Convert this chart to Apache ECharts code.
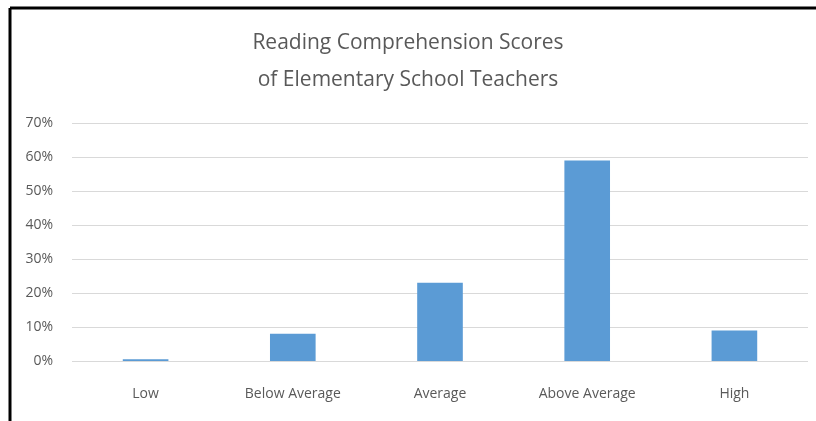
<!DOCTYPE html>
<html>
<head>
<meta charset="utf-8">
<script src="https://cdn.jsdelivr.net/npm/echarts@6/dist/echarts.min.js"></script>
<style>
  html, body { margin: 0; padding: 0; background: #fff; }
  #chart { width: 816px; height: 421px; }
</style>
</head>
<body>
<div id="chart"></div>
<script>
// chart data
var categories = ['Low', 'Below Average', 'Average', 'Above Average', 'High']
var scores = [0.5, 8, 23, 59, 9]
var titleLines = ['Reading Comprehension Scores', 'of Elementary School Teachers']

var font = '"Open Sans", sans-serif'
var chart = echarts.init(document.getElementById('chart'))

chart.setOption({
  backgroundColor: '#fff',
  animation: false,
  title: {
    text: titleLines.join('\n'),
    left: 'center',
    top: 20,
    textStyle: {
      color: '#595959',
      fontWeight: 'normal',
      fontFamily: font,
      fontSize: 21,
      lineHeight: 37
    }
  },
  // black frame on the left and top edges
  graphic: [
    { type: 'line', shape: { x1: 10, y1: 8, x2: 816, y2: 8 }, style: { stroke: '#000', lineWidth: 3 } },
    { type: 'line', shape: { x1: 10, y1: 8, x2: 10, y2: 421 }, style: { stroke: '#000', lineWidth: 3 } }
  ],
  grid: {
    left: 72,
    right: 8,
    top: 123,
    bottom: 60
  },
  xAxis: {
    type: 'category',
    data: categories,
    axisLine: { show: false },
    axisTick: { show: false },
    axisLabel: {
      color: '#595959',
      fontFamily: font,
      fontSize: 14,
      margin: 26
    }
  },
  yAxis: {
    type: 'value',
    min: 0,
    max: 70,
    interval: 10,
    axisLine: { show: false },
    axisTick: { show: false },
    splitLine: { lineStyle: { color: '#d9d9d9', width: 1 } },
    axisLabel: {
      color: '#595959',
      fontFamily: font,
      fontSize: 14,
      margin: 19,
      formatter: '{value}%'
    }
  },
  series: [
    {
      type: 'bar',
      data: scores,
      barWidth: '31%',
      itemStyle: { color: '#5b9bd5' }
    }
  ]
})
</script>
</body>
</html>
